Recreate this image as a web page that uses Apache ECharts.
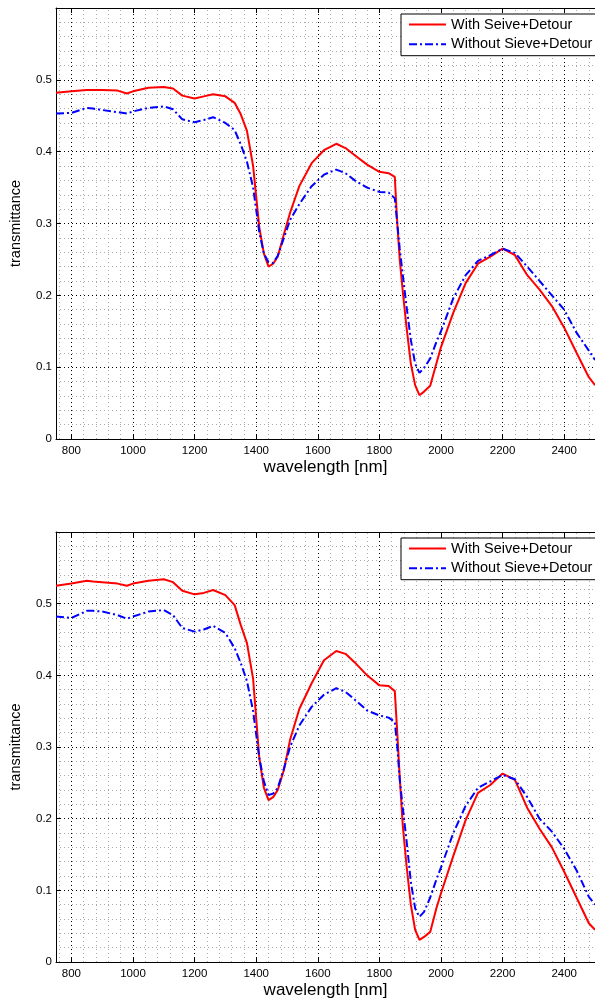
<!DOCTYPE html>
<html><head><meta charset="utf-8">
<script src="https://cdn.jsdelivr.net/npm/echarts@6/dist/echarts.min.js"></script>
<style>html,body{margin:0;padding:0;background:#fff}#c{width:595px;height:1000px}</style>
</head><body><div id="c"></div>
<script>
const wavelengths = [750,800,850,870,900,950,980,1000,1050,1100,1130,1160,1200,1230,1260,1300,1330,1350,1370,1390,1410,1425,1440,1455,1470,1490,1510,1540,1580,1620,1660,1690,1720,1760,1800,1830,1850,1858,1866,1876,1888,1902,1916,1930,1945,1965,1985,2000,2040,2080,2120,2160,2200,2240,2280,2320,2360,2400,2440,2480,2500];
const topWith = [0.482,0.484,0.486,0.486,0.486,0.485,0.481,0.484,0.489,0.490,0.488,0.478,0.474,0.477,0.480,0.477,0.468,0.452,0.429,0.380,0.295,0.258,0.240,0.244,0.254,0.285,0.315,0.352,0.384,0.402,0.411,0.405,0.395,0.382,0.372,0.370,0.365,0.300,0.250,0.205,0.156,0.105,0.075,0.061,0.066,0.074,0.105,0.128,0.176,0.217,0.244,0.254,0.265,0.256,0.228,0.208,0.185,0.155,0.120,0.086,0.075];
const topWithout = [0.453,0.454,0.461,0.460,0.458,0.455,0.453,0.456,0.461,0.463,0.459,0.445,0.441,0.444,0.448,0.440,0.430,0.410,0.386,0.350,0.288,0.258,0.246,0.245,0.255,0.280,0.305,0.327,0.352,0.368,0.375,0.370,0.360,0.350,0.344,0.343,0.335,0.300,0.265,0.228,0.185,0.138,0.105,0.092,0.099,0.112,0.135,0.150,0.196,0.228,0.248,0.256,0.265,0.259,0.240,0.220,0.200,0.180,0.148,0.123,0.110];
const botWith = [0.525,0.528,0.532,0.531,0.530,0.528,0.525,0.528,0.532,0.534,0.530,0.518,0.513,0.515,0.519,0.512,0.498,0.470,0.445,0.395,0.285,0.243,0.226,0.230,0.240,0.268,0.310,0.353,0.389,0.421,0.434,0.430,0.418,0.400,0.386,0.385,0.378,0.320,0.258,0.190,0.135,0.080,0.045,0.031,0.035,0.042,0.075,0.096,0.148,0.198,0.236,0.247,0.263,0.254,0.215,0.186,0.160,0.126,0.090,0.054,0.045];
const botWithout = [0.482,0.480,0.490,0.490,0.489,0.484,0.479,0.482,0.489,0.491,0.484,0.466,0.461,0.464,0.469,0.459,0.438,0.417,0.392,0.350,0.285,0.252,0.233,0.235,0.243,0.270,0.300,0.330,0.356,0.373,0.382,0.377,0.366,0.351,0.344,0.341,0.335,0.300,0.255,0.215,0.170,0.112,0.075,0.063,0.070,0.090,0.115,0.132,0.180,0.218,0.243,0.252,0.261,0.255,0.230,0.200,0.182,0.158,0.128,0.091,0.080];
const xTicks = [800,1000,1200,1400,1600,1800,2000,2200,2400];
const yTicks = [0,0.1,0.2,0.3,0.4,0.5];
const seriesNames = ['With Seive+Detour','Without Sieve+Detour'];
const xName = 'wavelength [nm]';
const yName = 'transmittance';

const FONT = 'Liberation Sans';
const X_MIN = 750, X_MAX = 2500;
const chart = echarts.init(document.getElementById('c'), null, {renderer:'canvas'});
const grids = [{top:8, height:431}, {top:532, height:430}];
const pairs = [[topWith, topWithout],[botWith, botWithout]];
const majorLine = {show:true, lineStyle:{color:'#000', width:1, type:[1,3]}};
const minorLine = {show:true, lineStyle:{color:'#aaa', width:1, type:[1,3]}};

// minor x grid values: 5 divisions of each tick step, across the axis extent
const xStep = (xTicks[1] - xTicks[0]) / 5;
const xMinor = [];
for (let k = Math.ceil((X_MIN - xTicks[0]) / xStep); xTicks[0] + k * xStep < X_MAX; k++) {
  const v = xTicks[0] + k * xStep;
  if (k % 5 !== 0 && v > X_MIN) xMinor.push(v);
}

const option = {
  animation:false,
  grid: grids.map(g => ({left:54, right:-6, top:g.top, height:g.height, containLabel:false})),
  xAxis: [], yAxis: [], series: [], legend: []
};
grids.forEach((g, i) => {
  option.xAxis.push({
    type:'value', gridIndex:i, min:X_MIN, max:X_MAX, position:'bottom',
    axisLine:{show:true, onZero:false, lineStyle:{color:'#000', width:1}},
    axisTick:{show:true, inside:true, length:5, lineStyle:{color:'#000'}, customValues:xTicks},
    axisLabel:{show:true, margin:6, color:'#000', fontFamily:FONT, fontSize:11.5, customValues:xTicks, formatter: v => String(v)},
    splitLine:{show:false}, minorSplitLine:{show:false},
    name:xName, nameLocation:'middle', nameGap:20,
    nameTextStyle:{color:'#000', fontFamily:FONT, fontSize:17}
  });
  option.xAxis.push({
    type:'value', gridIndex:i, min:X_MIN, max:X_MAX, position:'top',
    axisLine:{show:true, onZero:false, lineStyle:{color:'#000', width:1}},
    axisTick:{show:true, inside:true, length:5, lineStyle:{color:'#000'}, customValues: xTicks},
    axisLabel:{show:false}, splitLine:{show:false}
  });
  option.yAxis.push({
    type:'value', gridIndex:i, min:0, max:0.6, interval:0.1,
    axisLine:{show:true, onZero:false, lineStyle:{color:'#000', width:1}},
    axisTick:{show:true, inside:true, length:5, lineStyle:{color:'#000'}},
    axisLabel:{show:true, margin:4, color:'#000', fontFamily:FONT, fontSize:11.5, showMaxLabel:false,
      formatter: v => (yTicks.includes(+v.toFixed(1)) ? String(+v.toFixed(1)) : '')},
    splitLine: majorLine,
    minorTick:{show:false, splitNumber:5},
    minorSplitLine: minorLine,
    name:yName, nameLocation:'middle', nameGap:33,
    nameTextStyle:{color:'#000', fontFamily:FONT, fontSize:14.5}
  });
  const data = pairs[i];
  // vertical grid lines (major + minor) drawn from tick values
  option.series.push({
    type:'line', xAxisIndex:i*2, yAxisIndex:i, data:[], silent:true, z:1,
    markLine:{silent:true, symbol:['none','none'], animation:false, z:1,
      label:{show:false}, emphasis:{disabled:true},
      data: xMinor.map(v => ({xAxis:v, lineStyle:{color:'#aaa', width:1, type:[1,3]}}))
        .concat(xTicks.map(v => ({xAxis:v, lineStyle:{color:'#000', width:1, type:[1,3]}})))
    }
  });
  option.series.push({
    name:seriesNames[0], type:'line', xAxisIndex:i*2, yAxisIndex:i, symbol:'none',
    data: wavelengths.map((w,k)=>[w, data[0][k]]),
    lineStyle:{color:'#ff0000', width:2}, itemStyle:{color:'#ff0000'}, z:3
  });
  option.series.push({
    name:seriesNames[1], type:'line', xAxisIndex:i*2, yAxisIndex:i, symbol:'none',
    data: wavelengths.map((w,k)=>[w, data[1][k]]),
    lineStyle:{color:'#0000ff', width:2, type:[8,3,2,3]}, itemStyle:{color:'#0000ff'}, z:4
  });
  option.legend.push({
    data: seriesNames, orient:'vertical', left:401, top:g.top+6,
    backgroundColor:'#fff', borderColor:'#000', borderWidth:1, borderRadius:0,
    padding:[3,5,4,7], itemWidth:37, itemHeight:14, itemGap:4.7,
    itemStyle:{opacity:0},
    textStyle:{color:'#000', fontFamily:FONT, fontSize:14.5, lineHeight:14},
    selectedMode:false
  });
});
chart.setOption(option);
</script></body></html>
